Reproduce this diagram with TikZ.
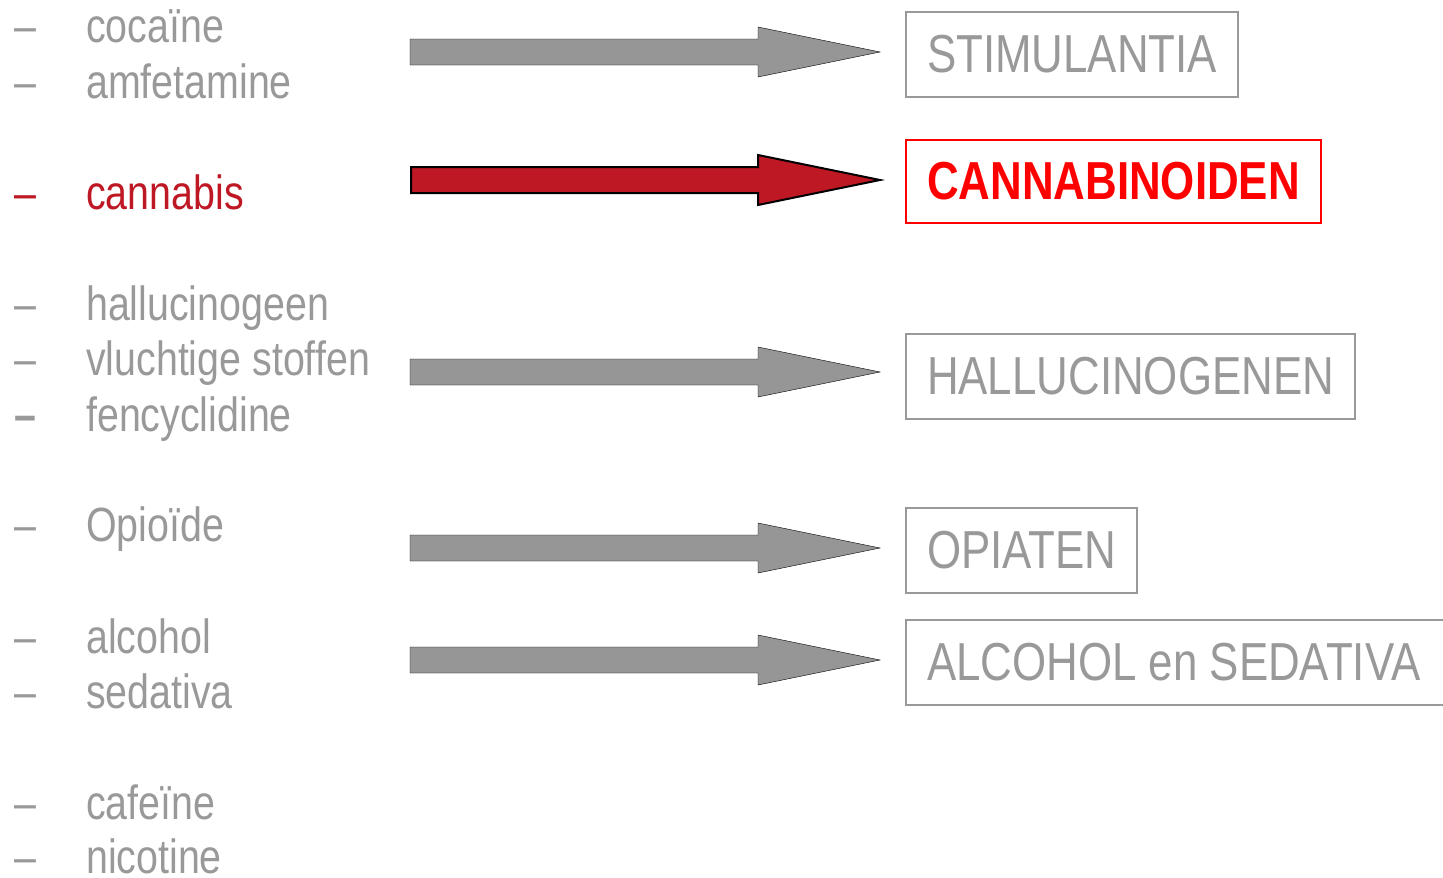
\documentclass[tikz,border=0pt]{standalone}
\usepackage{fontspec}
\setmainfont[FakeStretch=0.82]{Liberation Sans}
\usepackage{tikz}
\usetikzlibrary{calc}
\definecolor{grijs}{RGB}{153,153,153}
\definecolor{pijlgrijs}{RGB}{150,150,150}
\definecolor{donkerrood}{RGB}{190,24,36}
\definecolor{felrood}{RGB}{255,0,0}

% brede blokpijl: stijl, beginpunt, doelvak
\newcommand{\blokpijl}[3]{%
    \draw[#1] ($(#2)+(0,-13)$) -- ($(#2-|#3.west)+(-148,-13)$)
        -- ($(#2-|#3.west)+(-148,-25)$) -- ($(#2-|#3.west)+(-26,0)$)
        -- ($(#2-|#3.west)+(-148,25)$) -- ($(#2-|#3.west)+(-148,13)$)
        -- ($(#2)+(0,13)$) -- cycle;}

\begin{document}
\begin{tikzpicture}[x=1pt,y=-1pt,
        item/.style={anchor=base west,inner sep=0pt,text=grijs,font=\fontsize{48}{56}\selectfont},
        vak/.style={draw=grijs,line width=2pt,outer sep=0pt,anchor=west,inner xsep=21pt,
            minimum height=85pt,text=grijs,font=\fontsize{53.5}{62}\selectfont},
        grijspijl/.style={fill=pijlgrijs},
        roodpijl/.style={fill=donkerrood,draw=black,line width=2pt,line join=miter}]
        \useasboundingbox (0,0) rectangle (1443,878);

        % lijst met middelen
        \node[item] (coc) at (14,42) {\makebox[72pt][l]{–}cocaïne};
        \node[item] (amf) at (14,98) {\makebox[72pt][l]{–}amfetamine};
        \node[item,text=donkerrood] (can) at (14,209) {\makebox[72pt][l]{–}cannabis};
        \node[item] (hal) at (14,320) {\makebox[72pt][l]{–}hallucinogeen};
        \node[item] (vlu) at (14,375) {\makebox[72pt][l]{–}vluchtige stoffen};
        \node[item] (fen) at (14,431) {\makebox[72pt][l]{\bfseries –}fencyclidine};
        \node[item] (opi) at (14,541) {\makebox[72pt][l]{–}Opioïde};
        \node[item] (alc) at (14,653) {\makebox[72pt][l]{–}alcohol};
        \node[item] (sed) at (14,708) {\makebox[72pt][l]{–}sedativa};
        \node[item] (caf) at (14,819) {\makebox[72pt][l]{–}cafeïne};
        \node[item] (nic) at (14,873) {\makebox[72pt][l]{–}nicotine};

        % groepen
        \node[vak] (stim) at (906,54.5) {STIMULANTIA};
        \node[vak,draw=felrood,text=felrood,minimum height=83pt,font=\fontsize{53.5}{62}\selectfont\bfseries] (canna) at (906,181.5) {CANNABINOIDEN};
        \node[vak] (hallu) at (906,376.5) {HALLUCINOGENEN};
        \node[vak] (opiat) at (906,550.5) {OPIATEN};
        \node[vak] (alcsed) at (906,662.5) {\makebox[510pt][l]{ALCOHOL en SEDATIVA}};

        % pijlen
        \coordinate (p1) at (410,52);
        \coordinate (p2) at (411,180);
        \coordinate (p3) at (410,372);
        \coordinate (p4) at (410,548);
        \coordinate (p5) at (410,660);
        \blokpijl{grijspijl}{p1}{stim}
        \blokpijl{roodpijl}{p2}{canna}
        \blokpijl{grijspijl}{p3}{hallu}
        \blokpijl{grijspijl}{p4}{opiat}
        \blokpijl{grijspijl}{p5}{alcsed}
    \end{tikzpicture}
\end{document}
